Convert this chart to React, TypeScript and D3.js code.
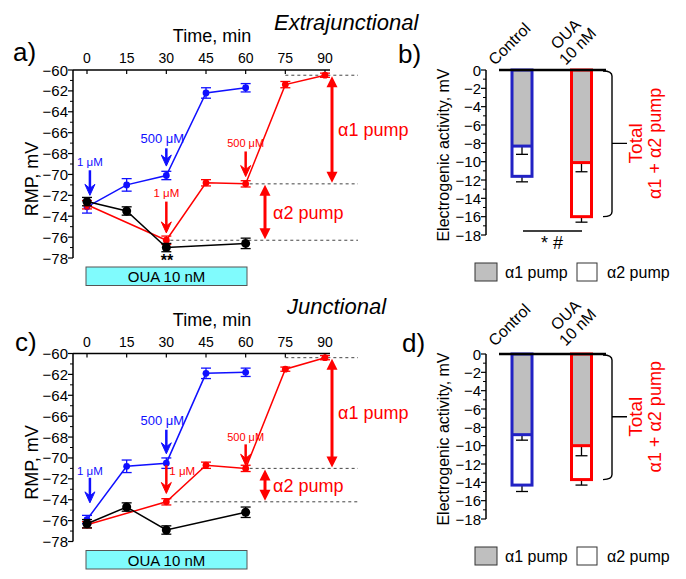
import React from 'react';
import * as d3 from 'd3';

const FONT = '"Liberation Sans", Arial, Helvetica, sans-serif';
const BLUE = '#1010ff';
const RED = '#ff0000';
const BAR_BLUE = '#2222c4';

// ---- axes ----
const timeTicks = [0, 15, 30, 45, 60, 75, 90];
const rmpTicks = [-60, -62, -64, -66, -68, -70, -72, -74, -76, -78];
const rmpMinor = [-61, -63, -65, -67, -69, -71, -73, -75, -77];
const barTicks = [0, -2, -4, -6, -8, -10, -12, -14, -16, -18];
const barMinor = [-1, -3, -5, -7, -9, -11, -13, -15, -17];

// ---- panel a (extrajunctional) ----
const aBlueTime = [0, 15, 30, 45, 60];
const aBlueRmp = [-73.1, -71.0, -70.1, -62.2, -61.7];
const aBlueErr = [0.6, 0.6, 0.4, 0.5, 0.4];
const aBlackTime = [0, 15, 30, 60];
const aBlackRmp = [-72.6, -73.5, -77.0, -76.6];
const aBlackErr = [0.4, 0.4, 0.4, 0.5];
const aRedTime = [0, 30, 45, 60, 75, 90];
const aRedRmp = [-72.9, -76.3, -70.8, -70.9, -61.4, -60.5];
const aRedErr = [0.4, 0.4, 0.3, 0.3, 0.3, 0.2];

// ---- panel c (junctional) ----
const cBlueTime = [0, 15, 30, 45, 60];
const cBlueRmp = [-75.9, -70.8, -70.5, -61.9, -61.8];
const cBlueErr = [0.4, 0.6, 0.5, 0.5, 0.4];
const cBlackTime = [0, 15, 30, 60];
const cBlackRmp = [-76.3, -74.7, -76.9, -75.2];
const cBlackErr = [0.4, 0.4, 0.4, 0.5];
const cRedTime = [0, 30, 45, 60, 75, 90];
const cRedRmp = [-76.4, -74.2, -70.7, -71.0, -61.5, -60.4];
const cRedErr = [0.3, 0.3, 0.3, 0.3, 0.2, 0.2];

// ---- bar panels ----
const groups = ['Control', 'OUA 10 nM'];
const bAlpha1 = [-8.3, -10.1];
const bAlpha1Err = [0.9, 1.0];
const bTotal = [-11.6, -16.0];
const bTotalErr = [0.6, 0.6];
const dAlpha1 = [-8.8, -10.0];
const dAlpha1Err = [0.6, 1.1];
const dTotal = [-14.3, -13.7];
const dTotalErr = [0.7, 0.6];

type Series = { t: number[]; v: number[]; e: number[]; color: string; r: number };
type Annot = { t: number; color: string; label: string; lv: number; v1: number; v2: number; size: number; anchor?: string; dx?: number };

function DownArrow({ x, y1, y2, color, w = 2.5 }: { x: number; y1: number; y2: number; color: string; w?: number }) {
  return (
    <g>
      <line x1={x} x2={x} y1={y1} y2={y2 - 6} stroke={color} strokeWidth={w} />
      <path d={`M${x - 5},${y2 - 11} L${x},${y2} L${x + 5},${y2 - 11} L${x},${y2 - 7} Z`} fill={color} stroke={color} strokeWidth={1} strokeLinejoin="round" />
    </g>
  );
}

function DoubleArrow({ x, y1, y2, color }: { x: number; y1: number; y2: number; color: string }) {
  return (
    <g>
      <line x1={x} x2={x} y1={y1 + 6} y2={y2 - 6} stroke={color} strokeWidth={3} />
      <path d={`M${x},${y1} L${x + 5.5},${y1 + 11} L${x - 5.5},${y1 + 11} Z`} fill={color} />
      <path d={`M${x},${y2} L${x + 5.5},${y2 - 11} L${x - 5.5},${y2 - 11} Z`} fill={color} />
    </g>
  );
}

function LinePanel({ T, series, red, annots, letter, letterX, letterY, title, titleX, level1Start, level2Start, level3Start }:
  { T: number; series: Series[]; red: Series; annots: Annot[]; letter: string; letterX: number; letterY: number; title: string; titleX: number; level1Start: number; level2Start: number; level3Start: number }) {
  const x = d3.scaleLinear().domain([0, 90]).range([87, 325]);
  const y = d3.scaleLinear().domain([-60, -78]).range([T, T + 188]);
  const path = (s: Series) => d3.line<number>().x((_, i) => x(s.t[i])).y((d) => y(d))(s.v) || '';
  const axisX = 73;
  const lvl1 = red.v[red.t.indexOf(90)];
  const lvl2 = red.v[red.t.indexOf(60)];
  const lvl3 = red.v[red.t.indexOf(30)];
  const dashEnd = 358;
  return (
    <g>
      <text x={titleX} y={T - 40} fontSize={22} fontStyle="italic">{title}</text>
      <text x={212} y={T - 28} fontSize={18} textAnchor="middle">Time, min</text>
      <text x={letterX} y={letterY} fontSize={26}>{letter}</text>
      {/* top axis */}
      <line x1={axisX} x2={330} y1={T} y2={T} stroke="#000" strokeWidth={1.5} />
      {timeTicks.map((t) => (
        <g key={t}>
          <line x1={x(t)} x2={x(t)} y1={T} y2={T + 4} stroke="#000" strokeWidth={1.2} />
          <text x={x(t)} y={T - 7} fontSize={14} textAnchor="middle">{t}</text>
        </g>
      ))}
      {/* left axis */}
      <line x1={axisX} x2={axisX} y1={T} y2={T + 188} stroke="#000" strokeWidth={1.5} />
      {rmpTicks.map((v) => (
        <g key={v}>
          <line x1={axisX - 5} x2={axisX} y1={y(v)} y2={y(v)} stroke="#000" strokeWidth={1.2} />
          <text x={68} y={y(v)} fontSize={15} textAnchor="end" dominantBaseline="central">{'\u2212' + Math.abs(v)}</text>
        </g>
      ))}
      {rmpMinor.map((v) => (
        <line key={v} x1={axisX - 3} x2={axisX} y1={y(v)} y2={y(v)} stroke="#000" strokeWidth={1} />
      ))}
      <text transform={`translate(38,${T + 109}) rotate(-90)`} fontSize={18} textAnchor="middle">RMP, mV</text>
      {/* OUA box */}
      <rect x={86} y={T + 197} width={161} height={18.5} fill="#80fbfd" stroke="#555" strokeWidth={1} />
      <text x={166.5} y={T + 212} fontSize={15} textAnchor="middle">OUA 10 nM</text>
      {/* level dashed lines */}
      <line x1={x(level1Start)} x2={dashEnd} y1={y(lvl1)} y2={y(lvl1)} stroke="#444" strokeWidth={1} strokeDasharray="3,3" />
      <line x1={x(level2Start)} x2={dashEnd} y1={y(lvl2)} y2={y(lvl2)} stroke="#444" strokeWidth={1} strokeDasharray="3,3" />
      <line x1={x(level3Start)} x2={dashEnd} y1={y(lvl3)} y2={y(lvl3)} stroke="#444" strokeWidth={1} strokeDasharray="3,3" />
      <DoubleArrow x={332} y1={y(lvl1) + 1} y2={y(lvl2) - 1} color={RED} />
      <DoubleArrow x={265} y1={y(lvl2) + 1} y2={y(lvl3) - 1} color={RED} />
      <text x={338} y={y((lvl1 + lvl2) / 2) + 6} fontSize={18} fill={RED}>α1 pump</text>
      <text x={273} y={y((lvl2 + lvl3) / 2) + 7} fontSize={18} fill={RED}>α2 pump</text>
      {/* series */}
      {series.map((s, si) => (
        <g key={si}>
          <path d={path(s)} fill="none" stroke={s.color} strokeWidth={1.5} />
          {s.v.map((v, i) => (
            <g key={i} stroke={s.color} strokeWidth={1.3}>
              <line x1={x(s.t[i])} x2={x(s.t[i])} y1={y(v - s.e[i])} y2={y(v + s.e[i])} />
              <line x1={x(s.t[i]) - 5} x2={x(s.t[i]) + 5} y1={y(v - s.e[i])} y2={y(v - s.e[i])} />
              <line x1={x(s.t[i]) - 5} x2={x(s.t[i]) + 5} y1={y(v + s.e[i])} y2={y(v + s.e[i])} />
            </g>
          ))}
          {s.v.map((v, i) => (
            <circle key={'c' + i} cx={x(s.t[i])} cy={y(v)} r={s.r} fill={s.color} />
          ))}
        </g>
      ))}
      {/* annotations */}
      {annots.map((a, i) => (
        <g key={'a' + i}>
          <text x={x(a.t) + (a.dx || 0)} y={y(a.lv)} fontSize={a.size} fill={a.color} textAnchor={a.anchor || 'middle'}>{a.label}</text>
          <DownArrow x={x(a.t)} y1={y(a.v1)} y2={y(a.v2)} color={a.color} />
        </g>
      ))}
    </g>
  );
}

function BarPanel({ T, alpha1, alpha1Err, total, totalErr, letter, letterX, letterY, sig, catDy }:
  { T: number; alpha1: number[]; alpha1Err: number[]; total: number[]; totalErr: number[]; letter: string; letterX: number; letterY: number; sig: boolean; catDy: number }) {
  const y = d3.scaleLinear().domain([0, -18]).range([T, T + 165]);
  const x = d3.scalePoint<string>().domain(groups).range([522, 581.5]);
  const colors = [BAR_BLUE, RED];
  const bw = 20;
  const axisX = 486;
  const bIdx = 1;
  const bTop = y(0);
  const bBot = y(total[bIdx]);
  const bMid = (bTop + bBot) / 2;
  const bx = 612;
  return (
    <g>
      <text x={letterX} y={letterY} fontSize={26}>{letter}</text>
      <line x1={axisX} x2={axisX} y1={T} y2={T + 165} stroke="#000" strokeWidth={1.5} />
      {barTicks.map((v) => (
        <g key={v}>
          <line x1={axisX - 5} x2={axisX} y1={y(v)} y2={y(v)} stroke="#000" strokeWidth={1.2} />
          <text x={481} y={y(v)} fontSize={15} textAnchor="end" dominantBaseline="central">{v === 0 ? '0' : '\u2212' + Math.abs(v)}</text>
        </g>
      ))}
      {barMinor.map((v) => (
        <line key={v} x1={axisX - 3} x2={axisX} y1={y(v)} y2={y(v)} stroke="#000" strokeWidth={1} />
      ))}
      <text transform={`translate(449,${T + 85}) rotate(-90)`} fontSize={16} textAnchor="middle">Electrogenic activity, mV</text>
      {groups.map((g, i) => {
        const cx = x(g) as number;
        return (
          <g key={g}>
            <rect x={cx - bw / 2} y={y(0)} width={bw} height={y(alpha1[i]) - y(0)} fill="#bfbfbf" />
            <rect x={cx - bw / 2} y={y(alpha1[i])} width={bw} height={y(total[i]) - y(alpha1[i])} fill="#fff" />
            <g stroke="#000" strokeWidth={1.3}>
              <line x1={cx} x2={cx} y1={y(alpha1[i])} y2={y(alpha1[i] - alpha1Err[i])} />
              <line x1={cx - 6} x2={cx + 6} y1={y(alpha1[i] - alpha1Err[i])} y2={y(alpha1[i] - alpha1Err[i])} />
              <line x1={cx} x2={cx} y1={y(total[i])} y2={y(total[i] - totalErr[i])} />
              <line x1={cx - 6} x2={cx + 6} y1={y(total[i] - totalErr[i])} y2={y(total[i] - totalErr[i])} />
            </g>
            <rect x={cx - bw / 2} y={y(0)} width={bw} height={y(total[i]) - y(0)} fill="none" stroke={colors[i]} strokeWidth={3} />
            <line x1={cx - bw / 2} x2={cx + bw / 2} y1={y(alpha1[i])} y2={y(alpha1[i])} stroke={colors[i]} strokeWidth={3} />
          </g>
        );
      })}
      <line x1={499} x2={606} y1={y(0)} y2={y(0)} stroke="#000" strokeWidth={2.5} />
      {/* category labels */}
      <text transform={`translate(${(x(groups[0]) as number) - 27},${T - 4 + catDy}) rotate(-45)`} fontSize={16}>Control</text>
      <text transform={`translate(${(x(groups[1]) as number) - 12},${T - 32 + catDy}) rotate(-45)`} fontSize={16} textAnchor="middle">OUA</text>
      <text transform={`translate(${(x(groups[1]) as number)},${T - 20 + catDy}) rotate(-45)`} fontSize={16} textAnchor="middle">10 nM</text>
      {/* bracket */}
      <path d={`M${bx - 9},${bTop + 1} Q${bx},${bTop + 1} ${bx},${bTop + 6} L${bx},${bBot - 5} Q${bx},${bBot} ${bx - 9},${bBot} M${bx},${bMid} L${bx + 15},${bMid}`} fill="none" stroke="#000" strokeWidth={1.4} />
      <text transform={`translate(642,${bMid}) rotate(-90)`} fontSize={19} fill={RED} textAnchor="middle">Total</text>
      <text transform={`translate(661,${bMid}) rotate(-90)`} fontSize={18} fill={RED} textAnchor="middle">α1 + α2 pump</text>
      {sig && (
        <g>
          <line x1={523} x2={582} y1={T + 161} y2={T + 161} stroke="#000" strokeWidth={1.3} />
          <text x={552} y={T + 179} fontSize={18} textAnchor="middle">* #</text>
        </g>
      )}
      {/* legend */}
      <rect x={475} y={T + 193} width={22} height={18} fill="#bfbfbf" stroke="#333" strokeWidth={1} />
      <text x={505} y={T + 208} fontSize={16}>α1 pump</text>
      <rect x={577} y={T + 193} width={20} height={18} fill="#fff" stroke="#333" strokeWidth={1} />
      <text x={607} y={T + 208} fontSize={16}>α2 pump</text>
    </g>
  );
}

export default function App() {
  const aSeries: Series[] = [
    { t: aBlueTime, v: aBlueRmp, e: aBlueErr, color: BLUE, r: 3.4 },
    { t: aRedTime, v: aRedRmp, e: aRedErr, color: RED, r: 3.4 },
    { t: aBlackTime, v: aBlackRmp, e: aBlackErr, color: '#000', r: 4.5 },
  ];
  const cSeries: Series[] = [
    { t: cBlueTime, v: cBlueRmp, e: cBlueErr, color: BLUE, r: 3.4 },
    { t: cRedTime, v: cRedRmp, e: cRedErr, color: RED, r: 3.4 },
    { t: cBlackTime, v: cBlackRmp, e: cBlackErr, color: '#000', r: 4.5 },
  ];
  const aAnnots: Annot[] = [
    { t: 1.1, color: BLUE, label: '1 μM', lv: -69.2, v1: -69.6, v2: -72.0, size: 11.5 },
    { t: 30, color: BLUE, label: '500 μM', lv: -67.0, v1: -67.5, v2: -69.2, size: 13, dx: -4 },
    { t: 30, color: RED, label: '1 μM', lv: -72.2, v1: -72.6, v2: -75.6, size: 11.5 },
    { t: 60, color: RED, label: '500 μM', lv: -67.4, v1: -67.8, v2: -70.2, size: 11 },
  ];
  const cAnnots: Annot[] = [
    { t: 1.1, color: BLUE, label: '1 μM', lv: -71.6, v1: -71.9, v2: -74.3, size: 11.5 },
    { t: 30, color: BLUE, label: '500 μM', lv: -66.8, v1: -67.3, v2: -69.6, size: 13, dx: -4 },
    { t: 30, color: RED, label: '1 μM', lv: -71.6, v1: -70.7, v2: -73.4, size: 11.5, anchor: 'start', dx: 3 },
    { t: 60, color: RED, label: '500 μM', lv: -68.4, v1: -68.7, v2: -70.7, size: 11 },
  ];
  return (
    <svg width={686} height={579} fontFamily={FONT} style={{ position: 'absolute', left: 0, top: 0, background: '#fff' }}>
      <rect width={686} height={579} fill="#fff" />
      <LinePanel T={70} series={aSeries} red={aSeries[1]} annots={aAnnots} letter="a)" letterX={13} letterY={61}
        title="Extrajunctional" titleX={274} level1Start={75} level2Start={61.5} level3Start={31.5} />
      <text x={167} y={266} fontSize={16} fontWeight="bold" textAnchor="middle">**</text>
      <LinePanel T={353.5} series={cSeries} red={cSeries[1]} annots={cAnnots} letter="c)" letterX={15} letterY={351}
        title="Junctional" titleX={287} level1Start={75} level2Start={61.5} level3Start={33} />
      <BarPanel T={70} alpha1={bAlpha1} alpha1Err={bAlpha1Err} total={bTotal} totalErr={bTotalErr} letter="b)" letterX={398} letterY={63} sig={true} catDy={0} />
      <BarPanel T={354} alpha1={dAlpha1} alpha1Err={dAlpha1Err} total={dTotal} totalErr={dTotalErr} letter="d)" letterX={402} letterY={352} sig={false} catDy={-3} />
    </svg>
  );
}
